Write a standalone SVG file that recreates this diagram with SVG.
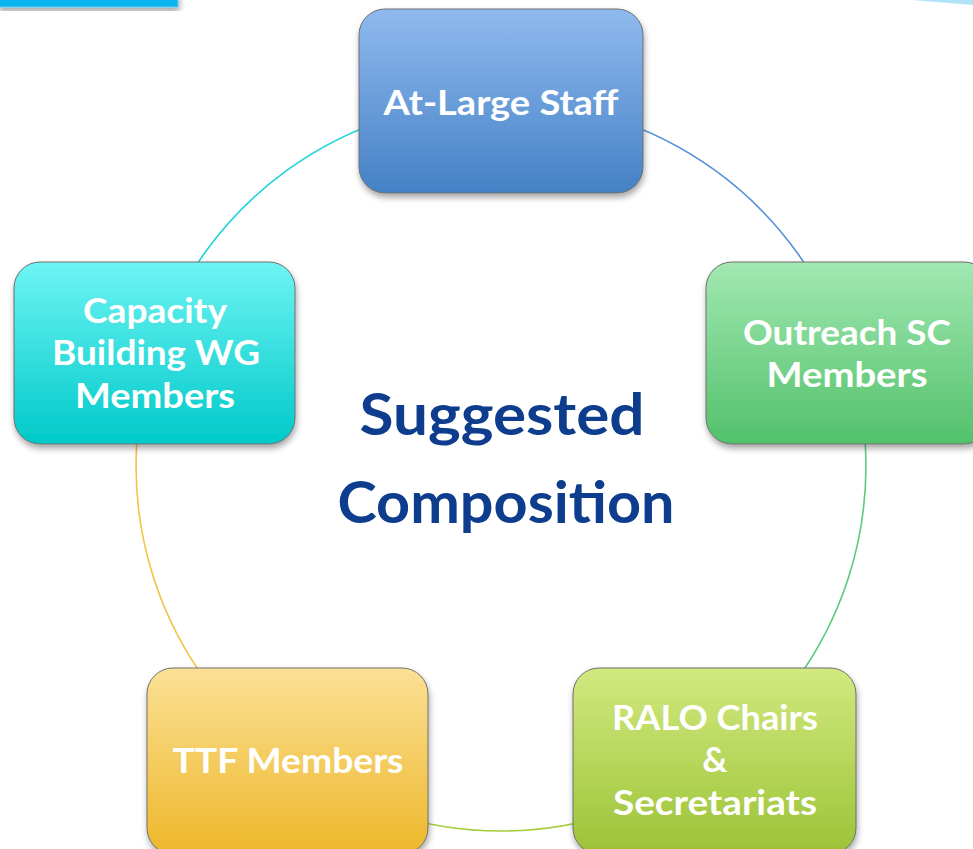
<svg xmlns="http://www.w3.org/2000/svg" width="973" height="849" viewBox="0 0 973 849">
<style>
.box{stroke:#6f6f6f;stroke-width:1;filter:url(#sh)}
.lbl{font-family:Lato,"Open Sans","DejaVu Sans",sans-serif;font-weight:700;font-size:35px;fill:#ffffff;text-anchor:middle}
.ctr{font-family:Lato,"Open Sans","DejaVu Sans",sans-serif;font-weight:700;font-size:57px;fill:#0d3d8c;text-anchor:middle}
.arc{fill:none;stroke-width:1.6}
</style>
<defs>
<filter id="sh" x="-10%" y="-10%" width="125%" height="130%">
<feDropShadow dx="1" dy="4" stdDeviation="3" flood-color="#000" flood-opacity="0.35"/>
</filter>
<linearGradient id="gBlue" x1="0" y1="0" x2="0" y2="1"><stop offset="0" stop-color="#8fbaee"/><stop offset="1" stop-color="#4581c6"/></linearGradient>
<linearGradient id="gGreen" x1="0" y1="0" x2="0" y2="1"><stop offset="0" stop-color="#a2e8b2"/><stop offset="1" stop-color="#52c16b"/></linearGradient>
<linearGradient id="gCyan" x1="0" y1="0" x2="0" y2="1"><stop offset="0" stop-color="#6ef4f4"/><stop offset="1" stop-color="#00c9c9"/></linearGradient>
<linearGradient id="gYellow" x1="0" y1="0" x2="0" y2="1"><stop offset="0" stop-color="#fbe095"/><stop offset="1" stop-color="#edb72a"/></linearGradient>
<linearGradient id="gLime" x1="0" y1="0" x2="0" y2="1"><stop offset="0" stop-color="#d2e97f"/><stop offset="1" stop-color="#9bc337"/></linearGradient>
</defs>
<rect width="973" height="849" fill="#ffffff"/>
<g id="deco">
<rect x="-2" y="-10" width="180" height="17" fill="#0db5f0" stroke="#5cc9f6" stroke-width="1" filter="url(#sh)"/>
<polygon points="912,0 973,0 973,5" fill="#b0e2f8"/>
</g>
<g id="connectors">
<path class="arc" stroke="#5592d8" d="M501 101 A365 365 0 0 1 848.1 353.2"/>
<path class="arc" stroke="#5ccb7a" d="M848.1 353.2 A365 365 0 0 1 715.5 761.3"/>
<path class="arc" stroke="#a8cc3c" d="M715.5 761.3 A365 365 0 0 1 286.5 761.3"/>
<path class="arc" stroke="#f0c448" d="M286.5 761.3 A365 365 0 0 1 153.9 353.2"/>
<path class="arc" stroke="#22d4d8" d="M153.9 353.2 A365 365 0 0 1 501 101"/>
</g>
<g id="center">
<text class="ctr" x="502" y="435" textLength="285" lengthAdjust="spacingAndGlyphs">Suggested</text>
<text class="ctr" x="506" y="523" textLength="337" lengthAdjust="spacingAndGlyphs">Composition</text>
</g>
<g id="node-atlarge">
<rect class="box" x="359" y="9" width="284" height="184" rx="26" fill="url(#gBlue)"/>
<text class="lbl" x="501" y="115" textLength="235" lengthAdjust="spacingAndGlyphs">At-Large Staff</text>
</g>
<g id="node-outreach">
<rect class="box" x="706" y="262" width="284" height="182" rx="26" fill="url(#gGreen)"/>
<text class="lbl" x="847" y="345" textLength="208" lengthAdjust="spacingAndGlyphs">Outreach SC</text>
<text class="lbl" x="847" y="387" textLength="161" lengthAdjust="spacingAndGlyphs">Members</text>
</g>
<g id="node-capacity">
<rect class="box" x="14" y="262" width="281" height="182" rx="26" fill="url(#gCyan)"/>
<text class="lbl" x="155" y="323" textLength="144" lengthAdjust="spacingAndGlyphs">Capacity</text>
<text class="lbl" x="156" y="365" textLength="208" lengthAdjust="spacingAndGlyphs">Building WG</text>
<text class="lbl" x="155" y="408" textLength="160" lengthAdjust="spacingAndGlyphs">Members</text>
</g>
<g id="node-ttf">
<rect class="box" x="147" y="668" width="281" height="186" rx="26" fill="url(#gYellow)"/>
<text class="lbl" x="288" y="773" textLength="231" lengthAdjust="spacingAndGlyphs">TTF Members</text>
</g>
<g id="node-ralo">
<rect class="box" x="573" y="668" width="283" height="186" rx="26" fill="url(#gLime)"/>
<text class="lbl" x="715" y="730" textLength="206" lengthAdjust="spacingAndGlyphs">RALO Chairs</text>
<text class="lbl" x="715" y="772">&amp;</text>
<text class="lbl" x="715" y="815" textLength="204" lengthAdjust="spacingAndGlyphs">Secretariats</text>
</g>
</svg>
